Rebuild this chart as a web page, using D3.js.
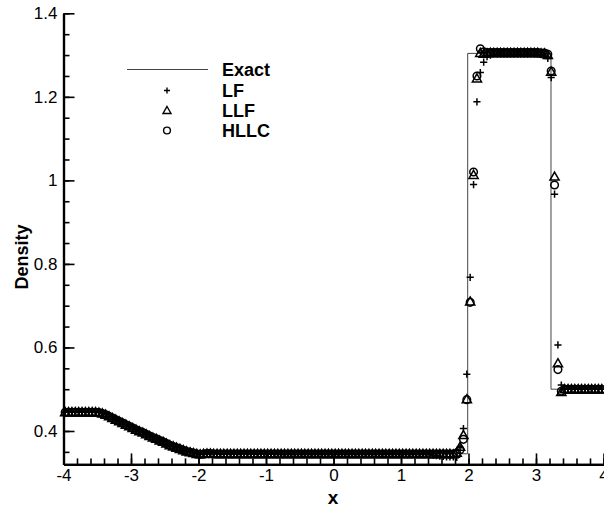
<!DOCTYPE html>
<html><head><meta charset="utf-8">
<script src="https://cdn.jsdelivr.net/npm/d3@7/dist/d3.min.js"></script>
<style>body{margin:0;background:#fff}svg{display:block}text{font-family:"Liberation Sans",Arial,sans-serif}</style>
</head><body><svg id="c" width="604" height="516"></svg>
<script>
// cell centres
const xCells = [-3.975,-3.925,-3.875,-3.825,-3.775,-3.725,-3.675,-3.625,-3.575,-3.525,
-3.475,-3.425,-3.375,-3.325,-3.275,-3.225,-3.175,-3.125,-3.075,-3.025,
-2.975,-2.925,-2.875,-2.825,-2.775,-2.725,-2.675,-2.625,-2.575,-2.525,
-2.475,-2.425,-2.375,-2.325,-2.275,-2.225,-2.175,-2.125,-2.075,-2.025,
-1.975,-1.925,-1.875,-1.825,-1.775,-1.725,-1.675,-1.625,-1.575,-1.525,
-1.475,-1.425,-1.375,-1.325,-1.275,-1.225,-1.175,-1.125,-1.075,-1.025,
-0.975,-0.925,-0.875,-0.825,-0.775,-0.725,-0.675,-0.625,-0.575,-0.525,
-0.475,-0.425,-0.375,-0.325,-0.275,-0.225,-0.175,-0.125,-0.075,-0.025,
0.025,0.075,0.125,0.175,0.225,0.275,0.325,0.375,0.425,0.475,
0.525,0.575,0.625,0.675,0.725,0.775,0.825,0.875,0.925,0.975,
1.025,1.075,1.125,1.175,1.225,1.275,1.325,1.375,1.425,1.475,
1.525,1.575,1.625,1.675,1.725,1.775,1.825,1.875,1.925,1.975,
2.025,2.075,2.125,2.175,2.225,2.275,2.325,2.375,2.425,2.475,
2.525,2.575,2.625,2.675,2.725,2.775,2.825,2.875,2.925,2.975,
3.025,3.075,3.125,3.175,3.225,3.275,3.325,3.375,3.425,3.475,
3.525,3.575,3.625,3.675,3.725,3.775,3.825,3.875,3.925,3.975];

const rhoLF = [0.445,0.445,0.445,0.445,0.445,0.445,0.445,0.445,0.445,0.445,
0.444,0.442,0.439,0.435,0.431,0.427,0.423,0.419,0.415,0.411,
0.407,0.403,0.399,0.396,0.392,0.388,0.384,0.381,0.377,0.374,
0.370,0.366,0.363,0.360,0.357,0.354,0.351,0.349,0.347,0.345,
0.344,0.345,0.345,0.345,0.346,0.345,0.345,0.345,0.345,0.345,
0.345,0.345,0.345,0.346,0.345,0.345,0.345,0.345,0.345,0.345,
0.345,0.345,0.345,0.344,0.344,0.344,0.344,0.344,0.344,0.344,
0.344,0.344,0.344,0.344,0.344,0.344,0.344,0.344,0.344,0.344,
0.344,0.344,0.344,0.344,0.344,0.344,0.344,0.344,0.344,0.344,
0.344,0.344,0.344,0.344,0.344,0.344,0.344,0.344,0.344,0.344,
0.344,0.344,0.344,0.344,0.344,0.344,0.344,0.344,0.343,0.342,
0.341,0.340,0.339,0.338,0.338,0.338,0.337,0.360,0.406,0.536,
0.768,0.990,1.188,1.258,1.283,1.296,1.300,1.302,1.302,1.302,
1.302,1.302,1.302,1.302,1.302,1.302,1.302,1.302,1.302,1.302,
1.302,1.301,1.300,1.292,1.246,0.967,0.606,0.510,0.500,0.500,
0.500,0.500,0.500,0.500,0.500,0.500,0.500,0.500,0.500,0.500];

const rhoLLF = [0.445,0.445,0.445,0.445,0.445,0.445,0.445,0.445,0.445,0.445,
0.444,0.442,0.439,0.435,0.431,0.427,0.423,0.419,0.415,0.411,
0.407,0.403,0.399,0.396,0.392,0.388,0.384,0.381,0.377,0.374,
0.370,0.366,0.363,0.360,0.357,0.354,0.351,0.349,0.347,0.345,
0.344,0.345,0.346,0.346,0.345,0.345,0.345,0.345,0.345,0.345,
0.345,0.345,0.345,0.345,0.345,0.345,0.345,0.345,0.345,0.345,
0.345,0.345,0.345,0.345,0.345,0.345,0.345,0.345,0.345,0.345,
0.345,0.345,0.345,0.345,0.345,0.345,0.345,0.345,0.345,0.345,
0.345,0.345,0.345,0.345,0.345,0.345,0.345,0.345,0.345,0.345,
0.345,0.345,0.345,0.345,0.345,0.345,0.345,0.345,0.345,0.345,
0.345,0.345,0.345,0.345,0.345,0.345,0.345,0.345,0.345,0.345,
0.345,0.345,0.345,0.345,0.345,0.344,0.348,0.362,0.390,0.476,
0.710,1.013,1.244,1.305,1.303,1.304,1.305,1.305,1.305,1.305,
1.305,1.305,1.305,1.305,1.305,1.305,1.305,1.305,1.305,1.305,
1.305,1.304,1.304,1.300,1.260,1.009,0.562,0.493,0.500,0.500,
0.500,0.500,0.500,0.500,0.500,0.500,0.500,0.500,0.500,0.500];

const rhoHLLC = [0.445,0.445,0.445,0.445,0.445,0.445,0.445,0.445,0.445,0.445,
0.444,0.442,0.439,0.435,0.431,0.427,0.423,0.419,0.415,0.411,
0.407,0.403,0.399,0.396,0.392,0.388,0.384,0.381,0.377,0.374,
0.370,0.366,0.363,0.360,0.357,0.354,0.351,0.349,0.347,0.345,
0.344,0.345,0.346,0.346,0.345,0.345,0.345,0.345,0.345,0.345,
0.345,0.345,0.345,0.345,0.345,0.345,0.345,0.345,0.345,0.345,
0.345,0.345,0.345,0.345,0.345,0.345,0.345,0.345,0.345,0.345,
0.345,0.345,0.345,0.345,0.345,0.345,0.345,0.345,0.345,0.345,
0.345,0.345,0.345,0.345,0.345,0.345,0.345,0.345,0.345,0.345,
0.345,0.345,0.345,0.345,0.345,0.345,0.345,0.345,0.345,0.345,
0.345,0.345,0.345,0.345,0.345,0.345,0.345,0.345,0.345,0.345,
0.345,0.345,0.345,0.345,0.345,0.345,0.347,0.355,0.380,0.475,
0.708,1.020,1.250,1.315,1.308,1.306,1.306,1.306,1.306,1.306,
1.306,1.306,1.306,1.306,1.306,1.306,1.306,1.306,1.306,1.306,
1.306,1.305,1.305,1.302,1.262,0.989,0.547,0.495,0.500,0.500,
0.500,0.500,0.500,0.500,0.500,0.500,0.500,0.500,0.500,0.500];

// exact solution
const exactX = [-4,-3.42,-3.25,-3.0,-2.75,-2.5,-2.25,-2.116,1.988,1.988,3.222,3.222,4];
const exactY = [0.445,0.445,0.4304,0.410,0.3903,0.3714,0.3532,0.3454,0.3454,1.304,1.304,0.5,0.5];

const xTicks = [-4,-3,-2,-1,0,1,2,3,4];
const xTickLabels = ["-4","-3","-2","-1","0","1","2","3","4"];
const yTicks = [0.4,0.6,0.8,1.0,1.2,1.4];
const yTickLabels = ["0.4","0.6","0.8","1","1.2","1.4"];
const legendNames = ["Exact","LF","LLF","HLLC"];

const svg = d3.select("#c");
const x = d3.scaleLinear().domain([-4,4]).range([63.5,603.5]);
const y = d3.scaleLinear().domain([0.32,1.4]).range([464.4,13.3]);

// exact line
const line = d3.line().x((d,i)=>x(exactX[i])).y((d,i)=>y(exactY[i]));
svg.append("path").attr("d", line(exactX)).attr("fill","none").attr("stroke","#444").attr("stroke-width",1);

// marker shapes
function plus(s){return `M${-s},0H${s}M0,${-s}V${s}`;}
function tri(s){return `M0,${-s}L${s},${s*0.75}L${-s},${s*0.75}Z`;}

function drawSeries(vals, kind){
  const g = svg.append("g").attr("fill","none").attr("stroke","#000").attr("stroke-width",1.5);
  vals.forEach((v,i)=>{
    const cx = x(xCells[i]), cy = y(v);
    if(kind==="plus") g.append("path").attr("d",plus(3.6)).attr("transform",`translate(${cx},${cy})`);
    else if(kind==="tri") g.append("path").attr("d",tri(4.6)).attr("transform",`translate(${cx},${cy})`);
    else g.append("circle").attr("cx",cx).attr("cy",cy).attr("r",3.8);
  });
}
drawSeries(rhoLF,"plus");
drawSeries(rhoLLF,"tri");
drawSeries(rhoHLLC,"circ");

// axes
const xAxis = d3.axisBottom(x).tickValues(xTicks).tickSizeInner(-11).tickSizeOuter(0).tickPadding(5).tickFormat((d,i)=>xTickLabels[i]);
const xMinor = d3.axisBottom(x).tickValues(d3.range(-4,4.001,0.2)).tickSizeInner(-6).tickSizeOuter(0).tickFormat("");
const yAxis = d3.axisLeft(y).tickValues(yTicks).tickSizeInner(-11).tickSizeOuter(0).tickPadding(6).tickFormat((d,i)=>yTickLabels[i]);
const yMinor = d3.axisLeft(y).tickValues(d3.range(0.35,1.401,0.05)).tickSizeInner(-6).tickSizeOuter(0).tickFormat("");

function style(g){g.select(".domain").attr("stroke-width",2.2).attr("stroke","#000");g.selectAll(".tick line").attr("stroke","#000").attr("stroke-width",1.6);g.selectAll("text").attr("font-size",17).attr("fill","#000").style("font-family","'Liberation Sans',Arial,sans-serif");}
svg.append("g").attr("transform",`translate(0,${y(0.32)})`).call(xMinor).call(style);
svg.append("g").attr("transform",`translate(0,${y(0.32)})`).call(xAxis).call(style);
svg.append("g").attr("transform",`translate(${x(-4)},0)`).call(yMinor).call(style);
svg.append("g").attr("transform",`translate(${x(-4)},0)`).call(yAxis).call(style);

// titles
svg.append("text").attr("x",333).attr("y",504).attr("text-anchor","middle").attr("font-size",19).attr("font-weight","bold").text("x");
svg.append("text").attr("transform","translate(28,257) rotate(-90)").attr("text-anchor","middle").attr("font-size",18).attr("font-weight","bold").text("Density");

// legend
const lg = svg.append("g");
const rows = [69.5,90.5,110.5,130.5];
lg.append("line").attr("x1",127).attr("x2",208).attr("y1",rows[0]).attr("y2",rows[0]).attr("stroke","#444").attr("stroke-width",1);
lg.append("path").attr("d",plus(3)).attr("transform",`translate(167,${rows[1]})`).attr("stroke","#000").attr("stroke-width",1.4).attr("fill","none");
lg.append("path").attr("d",tri(4)).attr("transform",`translate(167,${rows[2]})`).attr("stroke","#000").attr("stroke-width",1.4).attr("fill","none");
lg.append("circle").attr("cx",167).attr("cy",rows[3]).attr("r",3.4).attr("stroke","#000").attr("stroke-width",1.4).attr("fill","none");
legendNames.forEach((n,i)=>{
  lg.append("text").attr("x",222).attr("y",rows[i]).attr("dy","0.36em").attr("font-size",18).attr("font-weight","bold").text(n);
});
</script></body></html>
